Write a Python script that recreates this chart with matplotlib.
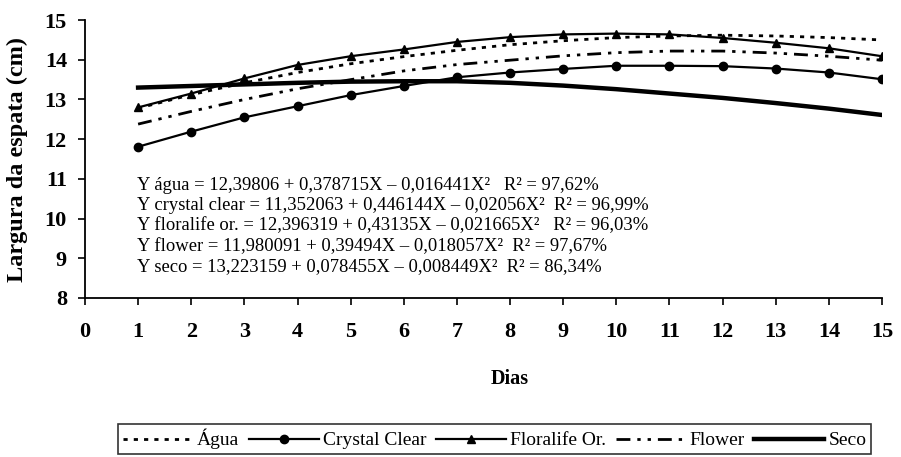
import matplotlib
matplotlib.use("Agg")
import matplotlib.pyplot as plt

# values (largura da espata, cm)
dias = [1, 2, 3, 4, 5, 6, 7, 8, 9, 10, 11, 12, 13, 14, 15]
agua = [12.78, 13.12, 13.42, 13.68, 13.90, 14.08, 14.24, 14.38, 14.48, 14.56, 14.60, 14.62, 14.60, 14.56, 14.50]
crystal = [11.81, 12.19, 12.55, 12.83, 13.11, 13.34, 13.56, 13.68, 13.77, 13.85, 13.85, 13.84, 13.78, 13.68, 13.51]
floralife = [12.80, 13.15, 13.53, 13.87, 14.09, 14.26, 14.45, 14.57, 14.64, 14.66, 14.64, 14.55, 14.43, 14.29, 14.09]
flower = [12.38, 12.70, 13.00, 13.27, 13.50, 13.72, 13.88, 13.99, 14.10, 14.18, 14.22, 14.22, 14.17, 14.09, 13.99]
seco = [13.30, 13.34, 13.38, 13.42, 13.45, 13.46, 13.46, 13.42, 13.35, 13.26, 13.15, 13.04, 12.91, 12.77, 12.61]

equacoes = [
    "Y água = 12,39806 + 0,378715X – 0,016441X²   R² = 97,62%",
    "Y crystal clear = 11,352063 + 0,446144X – 0,02056X²  R² = 96,99%",
    "Y floralife or. = 12,396319 + 0,43135X – 0,021665X²   R² = 96,03%",
    "Y flower = 11,980091 + 0,39494X – 0,018057X²  R² = 97,67%",
    "Y seco = 13,223159 + 0,078455X – 0,008449X²  R² = 86,34%",
]

plt.rcParams['font.family'] = ['Liberation Serif', 'DejaVu Serif']

fig = plt.figure(figsize=(9.01, 4.57), dpi=100)
ax = fig.add_axes([0.0943, 0.348, 0.8846, 0.608])

ax.plot(dias, agua, color='black', lw=2, linestyle=(0, (1.5, 2.2)), label='Água')
ax.plot(dias, crystal, color='black', lw=1.6, marker='o', ms=6, label='Crystal Clear')
ax.plot(dias, floralife, color='black', lw=1.6, marker='^', ms=6, label='Floralife Or.')
ax.plot(dias, flower, color='black', lw=2, linestyle=(0, (5, 2.5, 1.2, 2.5, 1.2, 2.5)), label='Flower')
ax.plot(dias, seco, color='black', lw=3.2, label='Seco')

ax.set_xlim(0, 15)
ax.set_ylim(8, 15)
ax.set_xticks(range(0, 16))
ax.set_yticks(range(8, 16))
for sp in ['top', 'right']:
    ax.spines[sp].set_visible(False)
for sp in ['left', 'bottom']:
    ax.spines[sp].set_linewidth(1.3)
ax.tick_params(axis='both', direction='out', length=5, width=1.2, labelsize=16)
ax.tick_params(axis='x', pad=12)
ax.tick_params(axis='y', pad=8)
for lab in ax.get_xticklabels() + ax.get_yticklabels():
    lab.set_fontweight('bold')

ax.set_ylabel('Largura da espata (cm)', fontsize=17.5, fontweight='bold')
ax.yaxis.set_label_coords(-0.071, 0.5)
ax.set_xlabel('Dias', fontsize=14.5, fontweight='bold')
ax.xaxis.set_label_coords(0.533, -0.255)

for i, eq in enumerate(equacoes):
    ax.text(137 / 901, 272 / 457 - i * 20.5 / 457, eq, transform=fig.transFigure,
            fontsize=13.4, va='center', ha='left')

leg = fig.legend(loc='center', bbox_to_anchor=(0.549, 0.039), ncol=5,
                 fontsize=14, frameon=True, fancybox=False, edgecolor='black',
                 handlelength=3.6, handletextpad=0.2, columnspacing=0.5,
                 borderpad=0.25, borderaxespad=0.2)
leg.get_frame().set_linewidth(1.2)

fig.savefig('out.png', dpi=100)
